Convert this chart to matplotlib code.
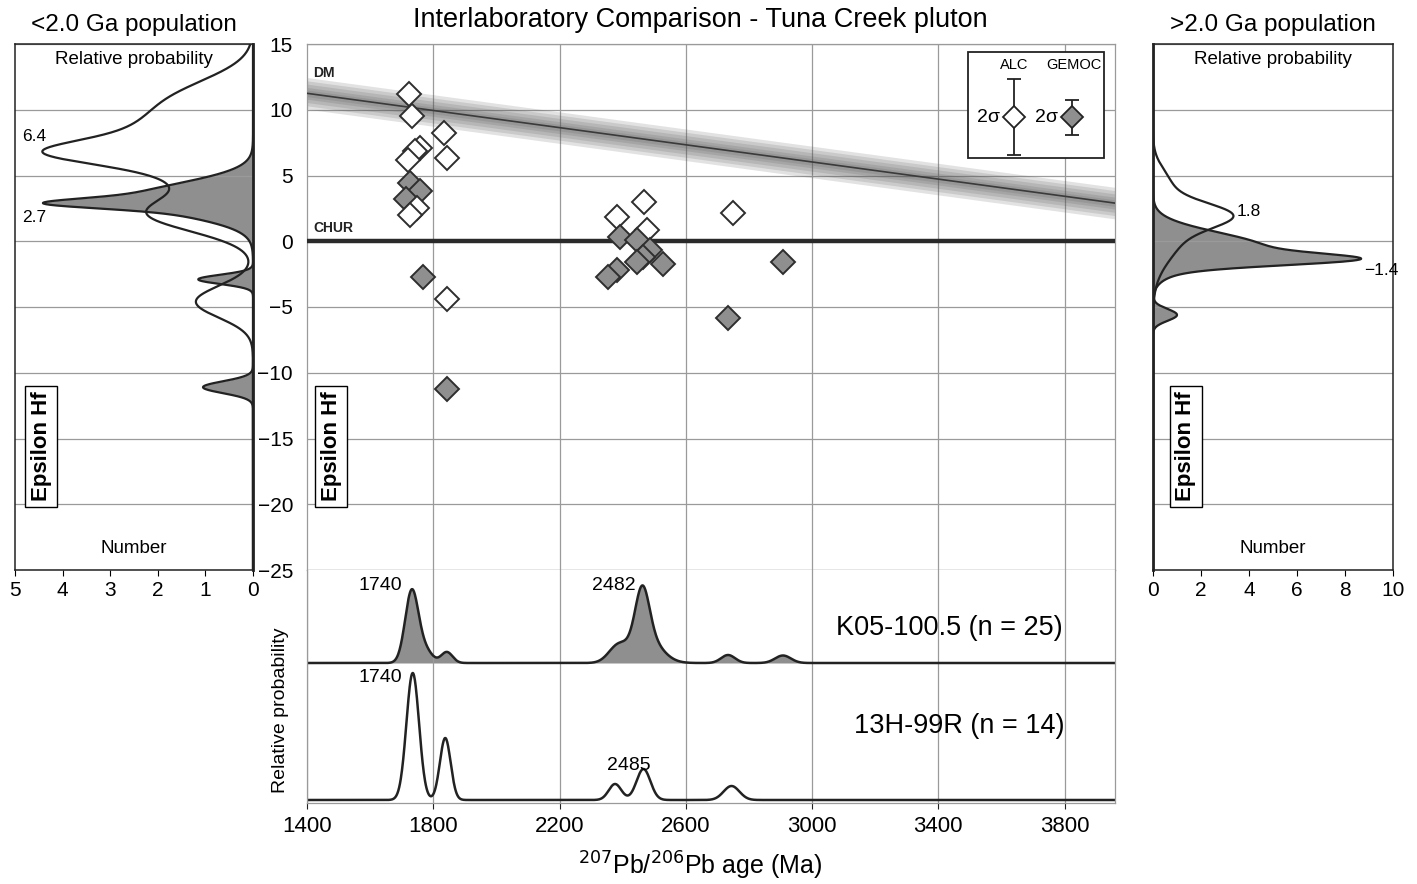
import numpy as np
import matplotlib
matplotlib.use("Agg")
import matplotlib.pyplot as plt
from matplotlib.patches import Rectangle

plt.rcParams["font.family"] = ["Liberation Sans", "DejaVu Sans"]

# ---------------------------------------------------------------
# Data
# ---------------------------------------------------------------
# zircon analyses: 207Pb/206Pb age (Ma) and epsilon Hf
alc_age = [2467, 2381, 2476, 2750,
           1722, 1733, 1835, 1759, 1743, 1719, 1845, 1748, 1727, 1843]
alc_eps = [3.0, 1.85, 0.84, 2.15,
           11.2, 9.5, 8.2, 7.1, 6.85, 6.2, 6.3, 2.5, 2.0, -4.4]
gemoc_age = [1725, 1757, 1715, 1769, 1845, 2393, 2446, 2488, 2465,
             2447, 2528, 2381, 2355, 2907, 2734]
gemoc_eps = [4.4, 3.8, 3.2, -2.7, -11.2, 0.33, 0.08, -0.7, -1.2,
             -1.6, -1.7, -2.2, -2.7, -1.6, -5.8]

# depleted mantle evolution line (end points)
dm_age = [1400, 3960]
dm_eps = [11.25, 2.9]

# age probability peaks (centre Ma, height, width Ma)
k05_centre = [1732, 1775, 1843, 2385, 2462, 2475, 2734, 2908]
k05_height = [72, 12, 11, 16, 52, 26, 8, 7.5]
k05_width = [21, 22, 18, 30, 22, 45, 22, 25]
h13_centre = [1735, 1838, 2376, 2466, 2745]
h13_height = [127, 62, 16, 31, 14]
h13_width = [20, 17, 20, 22, 25]

# epsilon Hf probability peaks (centre, height in "Number", width)
young_alc_centre = [6.75, 7.0, 11.0, 2.0, -4.6]
young_alc_height = [1.5, 2.9, 1.2, 2.0, 1.2]
young_alc_width = [0.8, 2.2, 1.6, 1.3, 1.2]
young_gemoc_centre = [2.87, 3.2, -2.9, -11.1]
young_gemoc_height = [1.9, 2.6, 1.15, 1.05]
young_gemoc_width = [0.35, 1.2, 0.35, 0.45]
old_alc_centre = [2.0, 0.8, 4.5]
old_alc_height = [2.2, 1.3, 0.5]
old_alc_width = [0.9, 2.0, 1.2]
old_gemoc_centre = [-1.4, -0.5, -5.6]
old_gemoc_height = [5.2, 4.6, 1.0]
old_gemoc_width = [0.42, 1.15, 0.45]

eps_ticks = [15, 10, 5, 0, -5, -10, -15, -20, -25]
age_ticks = [1400, 1800, 2200, 2600, 3000, 3400, 3800]

GREY = "#8f8f8f"
DARK = "#222222"
GRID = "#9a9a9a"


def pdp(x, centres, heights, widths):
    y = np.zeros_like(x)
    for c, h, w in zip(centres, heights, widths):
        y += h * np.exp(-0.5 * ((x - c) / w) ** 2)
    return y


W, H = 1417, 884
fig = plt.figure(figsize=(W / 100, H / 100), dpi=100)


def box(x0, y0, x1, y1):
    # pixel box -> figure fraction rectangle
    return [x0 / W, 1 - y1 / H, (x1 - x0) / W, (y1 - y0) / H]


# ---------------- main epsilon Hf vs age panel ----------------
ax = fig.add_axes(box(307, 44, 1115, 570))
ax.set_xlim(1400, 3960)
ax.set_ylim(-25, 15)
ax.set_yticks(eps_ticks)
ax.set_xticks(age_ticks[1:])
ax.tick_params(axis="x", length=0, labelbottom=False)
ax.tick_params(axis="y", length=0, pad=10, labelsize=15)
ax.grid(True, color=GRID, lw=0.9)
for s in ax.spines.values():
    s.set_color(GRID)
    s.set_linewidth(0.9)

# DM band, blurred look
for hw in [1.2, 0.95, 0.7, 0.45, 0.25]:
    ax.fill_between(dm_age, [e - hw for e in dm_eps], [e + hw for e in dm_eps],
                    color="#555555", alpha=0.17, lw=0, zorder=2)
ax.plot(dm_age, dm_eps, color="#3a3a3a", lw=1.2, zorder=3)
ax.axhline(0, color="#2a2a2a", lw=3.2, zorder=3)
ax.text(1420, 12.5, "DM", fontsize=10, fontweight="bold", color=DARK)
ax.text(1420, 0.7, "CHUR", fontsize=10, fontweight="bold", color=DARK)

mk = dict(ls="none", marker="D", ms=11.8, mew=1.4, mec="#2e2e2e")
ax.plot(alc_age[:4], alc_eps[:4], mfc="white", zorder=4, **mk)
ax.plot(gemoc_age, gemoc_eps, mfc=GREY, zorder=5, **mk)
ax.plot(alc_age[4:], alc_eps[4:], mfc="white", zorder=6, **mk)

ax.text(0.03, 0.235, "Epsilon Hf", transform=ax.transAxes, rotation=90,
        ha="center", va="center", fontsize=16, fontweight="bold",
        bbox=dict(boxstyle="square,pad=0.25", fc="white", ec="black", lw=1))

# 2 sigma legend box
ax.add_patch(Rectangle((3495, 6.33), 429, 8.07, fc="white", ec=DARK, lw=1.3, zorder=6))
ax.errorbar([3641], [9.43], yerr=[2.9], fmt="D", ms=11, mfc="white", mec=DARK,
            mew=1.3, ecolor=DARK, elinewidth=1.3, capsize=5, zorder=7)
ax.errorbar([3825], [9.43], yerr=[1.33], fmt="D", ms=11, mfc=GREY, mec=DARK,
            mew=1.3, ecolor=DARK, elinewidth=1.3, capsize=5, zorder=7)
ax.text(3641, 13.4, "ALC", ha="center", va="center", fontsize=10.5, zorder=8)
ax.text(3830, 13.4, "GEMOC", ha="center", va="center", fontsize=10.5, zorder=8)
ax.text(3597, 9.43, "2σ", ha="right", va="center", fontsize=14, zorder=8)
ax.text(3780, 9.43, "2σ", ha="right", va="center", fontsize=14, zorder=8)

# ---------------- age probability panel ----------------
axb = fig.add_axes(box(307, 570, 1115, 803))
axb.set_xlim(1400, 3960)
axb.set_ylim(-3, 230)
axb.set_xticks(age_ticks)
axb.set_yticks([])
axb.tick_params(axis="x", length=4, color=DARK, labelsize=16, pad=5)
axb.grid(True, axis="x", color=GRID, lw=0.9)
axb.spines["top"].set_visible(False)
for side in ["left", "right", "bottom"]:
    axb.spines[side].set_color(GRID)
    axb.spines[side].set_linewidth(0.9)

age = np.linspace(1400, 3960, 2000)
k05_off = 137
k05 = pdp(age, k05_centre, k05_height, k05_width)
h13 = pdp(age, h13_centre, h13_height, h13_width)
axb.fill_between(age, k05_off, k05_off + k05, color=GREY, lw=0)
axb.plot(age, k05_off + k05, color=DARK, lw=1.8)
axb.plot(age, h13, color=DARK, lw=1.8)

axb.text(1700, k05_off + 77, "1740", ha="right", va="center", fontsize=14)
axb.text(2442, k05_off + 78, "2482", ha="right", va="center", fontsize=14)
axb.text(1700, 122, "1740", ha="right", va="center", fontsize=14)
axb.text(2420, 26, "2485", ha="center", va="bottom", fontsize=14)
axb.text(3435, k05_off + 35, "K05-100.5 (n = 25)", ha="center", va="center", fontsize=19.5)
axb.text(3467, 74, "13H-99R (n = 14)", ha="center", va="center", fontsize=19.5)
axb.set_ylabel("Relative probability", fontsize=14, labelpad=2)
axb.yaxis.set_label_coords(-0.022, 0.4)

fig.text(700 / W, 1 - 866 / H, "$^{207}$Pb/$^{206}$Pb age (Ma)", ha="center",
         va="center", fontsize=18)
fig.text(700 / W, 1 - 20 / H, "Interlaboratory Comparison - Tuna Creek pluton",
         ha="center", va="center", fontsize=19.5)

# ---------------- marginal epsilon Hf panels ----------------
eps = np.linspace(-25, 15, 1600)


def side_panel(rect, xlim, xticks, alc, gemoc, title, xcentre):
    a = fig.add_axes(rect)
    a.set_xlim(*xlim)
    a.set_ylim(-25, 15)
    a.set_xticks(xticks)
    a.set_yticks(eps_ticks)
    a.tick_params(axis="y", length=0, labelleft=False)
    a.tick_params(axis="x", length=4, labelsize=15, pad=4)
    a.grid(True, axis="y", color=GRID, lw=0.9)
    for s in a.spines.values():
        s.set_color(DARK)
        s.set_linewidth(1.1)
    a.fill_betweenx(eps, 0, gemoc, color=GREY, lw=0)
    a.plot(gemoc, eps, color=DARK, lw=1.6)
    a.plot(alc, eps, color=DARK, lw=1.6)
    a.text(0.5, 0.97, "Relative probability", transform=a.transAxes, ha="center",
           va="center", fontsize=13.5)
    a.text(0.5, 0.04, "Number", transform=a.transAxes, ha="center",
           va="center", fontsize=13.5)
    a.text(xcentre, 0.235, "Epsilon Hf", transform=a.transAxes, rotation=90,
           ha="center", va="center", fontsize=16, fontweight="bold",
           bbox=dict(boxstyle="square,pad=0.25", fc="white", ec="black", lw=1))
    fig.text(rect[0] + rect[2] / 2, 1 - 25 / H, title, ha="center", va="center",
             fontsize=17.5)
    return a


young_alc = pdp(eps, young_alc_centre, young_alc_height, young_alc_width)
young_gemoc = pdp(eps, young_gemoc_centre, young_gemoc_height, young_gemoc_width)
axl = side_panel(box(15, 44, 253, 570), (5, 0), [5, 4, 3, 2, 1, 0],
                 young_alc, young_gemoc, "<2.0 Ga population", 0.11)
axl.spines["right"].set_linewidth(2)
axl.text(4.85, 8.0, "6.4", fontsize=12.5, ha="left", va="center")
axl.text(4.85, 1.8, "2.7", fontsize=12.5, ha="left", va="center")

old_alc = pdp(eps, old_alc_centre, old_alc_height, old_alc_width)
old_gemoc = pdp(eps, old_gemoc_centre, old_gemoc_height, old_gemoc_width)
axr = side_panel(box(1153, 44, 1393, 570), (0, 10), [0, 2, 4, 6, 8, 10],
                 old_alc, old_gemoc, ">2.0 Ga population", 0.1375)
axr.spines["left"].set_linewidth(2)
axr.text(3.5, 2.3, "1.8", fontsize=12.5, ha="left", va="center")
axr.text(9.5, -2.2, "−1.4", fontsize=12.5, ha="center", va="center")

fig.savefig("out.png", dpi=100)
